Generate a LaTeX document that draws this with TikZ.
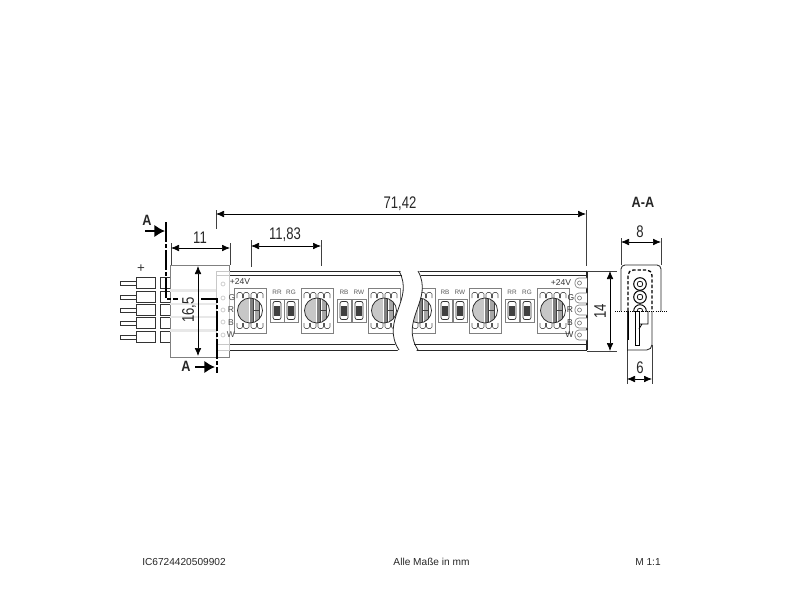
\documentclass[tikz,border=0pt]{standalone}
\usepackage{fontspec}
\setmainfont{Liberation Sans}
\newfontfamily\dimfont[FakeStretch=0.78]{Liberation Sans}
\newfontfamily\cutfont[FakeStretch=0.85]{Liberation Sans}
\usetikzlibrary{arrows.meta}
\definecolor{padgray}{HTML}{C8C8C8}
\definecolor{boxgray}{HTML}{808080}
\definecolor{chipgray}{HTML}{808080}
\tikzset{
  dimline/.style={line width=.55pt,{Latex[length=6pt,width=5pt]}-{Latex[length=6pt,width=5pt]}},
  extline/.style={line width=.5pt,black!75},
  dimlabel/.style={font=\dimfont\fontsize{12.6}{14}\selectfont,inner sep=0pt,text=black!85},
  footlabel/.style={font=\fontsize{7.6}{9}\selectfont,text=black!85,inner sep=0pt},
  cutline/.style={line width=1.7pt,dash pattern=on 15pt off 1.5pt on 3pt off 1.5pt},
  cutarrow/.style={line width=1.7pt,-{Latex[length=8pt,width=9.5pt]}},
  cutlabel/.style={font=\cutfont\bfseries\fontsize{11.2}{13}\selectfont,inner sep=0pt,text=black!85},
  striplabel/.style={font=\fontsize{6.4}{8}\selectfont,inner sep=0pt,text=black!80},
  smalllabel/.style={font=\fontsize{4.8}{6}\selectfont,inner sep=0pt,text=black!65},
  pinbox/.style={line width=.7pt,draw=black!80,fill=white},
}
\newcommand{\ledchip}[1]{
  \begin{scope}[shift={(#1,288)}]
    \draw[boxgray,line width=.55pt,fill=white] (0,0) rectangle (32,45);
    \foreach \padx in {3,9.5,17,23.5} {
      \draw[black!65,line width=.4pt,rounded corners=1.2pt] (\padx,10) -- (\padx,4.5) -- (\padx+5.5,4.5) -- (\padx+5.5,10);
      \draw[black!65,line width=.4pt,rounded corners=1.2pt] (\padx,35) -- (\padx,40.5) -- (\padx+5.5,40.5) -- (\padx+5.5,35);
    }
    \fill[white] (16,22.5) circle (12.5);
    \begin{scope}
      \clip (16,22.5) circle (12.5);
      \fill[black!22] (3,9) rectangle (15,36);
      \fill[chipgray] (15.5,9) rectangle (19,36);
      \fill[black!35] (21,9) rectangle (25,36);
      \draw[black!75,line width=.35pt] (19.5,9) -- (19.5,36) (25,9) -- (25,36);
      \draw[black!75,line width=.35pt] (19.5,22) -- (25,22);
    \end{scope}
    \draw[black!85,line width=.55pt] (16,22.5) circle (12.5);
  \end{scope}
}
\newcommand{\reschip}[3]{
  \begin{scope}[shift={(#1,299)}]
    \draw[boxgray,line width=.5pt,fill=white] (0,0) rectangle (14,23);
    \draw[black!80,line width=.55pt,rounded corners=1.5pt] (3,2.5) rectangle (11,20.5);
    \fill[black!75] (3.6,6.5) rectangle (10.4,16.5);
    \node[smalllabel] (#3) at (7,-7) {#2};
  \end{scope}
}
\begin{document}
\begin{tikzpicture}[x=.75pt,y=-.75pt]
\useasboundingbox (0,0) rectangle (800,600);

\begin{scope}
  \clip (229,268) -- (399,268) .. controls (415,300) and (380,320) .. (399,353) -- (229,353) -- cycle;
  \ledchip{234}
  \ledchip{301}
  \ledchip{368}
  \reschip{270}{RR}{rrleft}
  \reschip{284}{RG}{rgleft}
  \reschip{337}{RB}{rbleft}
  \reschip{352}{RW}{rwleft}
  \foreach \stripy in {271,275,344,350}
    \draw[black!85,line width=.65pt] (229,\stripy) -- (405,\stripy);
\end{scope}
\begin{scope}
  \clip (418,268) -- (587,268) -- (587,353) -- (418,353) .. controls (399,320) and (434,300) .. (418,268) -- cycle;
  \ledchip{403}
  \ledchip{469}
  \ledchip{537}
  \reschip{438}{RB}{rbright}
  \reschip{453}{RW}{rwright}
  \reschip{505}{RR}{rrright}
  \reschip{520}{RG}{rgright}
  \foreach \stripy in {271,275,344,350}
    \draw[black!85,line width=.65pt] (400,\stripy) -- (587,\stripy);
\end{scope}
\draw[black!85,line width=.6pt] (399,271) .. controls (415,300) and (380,320) .. (399,350);
\draw[black!85,line width=.6pt] (418,271) .. controls (434,300) and (399,320) .. (418,350);
\draw[black!85,line width=.9pt] (587,271) -- (587,350);

\foreach \rowy in {283,298,310,323,335} {
  \draw[boxgray,line width=.5pt,fill=white,rounded corners=3pt] (587,\rowy-5) -- (575,\rowy-5) -- (575,\rowy+5) -- (587,\rowy+5);
  \draw[boxgray,line width=.5pt] (579.5,\rowy) circle (2);
}
\node[striplabel] (plusright) at (561,283) {+24V};
\node[striplabel] (gright) at (571,298) {G};
\node[striplabel] (rright) at (570,310) {R};
\node[striplabel] (bright) at (570,323) {B};
\node[striplabel] (wright) at (569.5,335) {W};

\foreach \rowy in {283,297,310,323,337} {
  \draw[pinbox] (120,\rowy-2) rectangle (136,\rowy+2);
  \draw[pinbox] (136,\rowy-5.5) rectangle (155,\rowy+5.5);
  \draw[pinbox] (160,\rowy-5.5) rectangle (170,\rowy+5.5);
}
\node[font=\fontsize{10}{12}\selectfont,inner sep=0pt,text=black!80] (plusleft) at (141,269) {+};

\draw[boxgray,line width=.7pt,fill=white] (170,265) rectangle (229,357);
\foreach \rowy/\nexty in {283/297,297/310,310/323,323/337}
  \fill[black!9] (170,\rowy+5.5) rectangle (216,\nexty-5.5);
\draw[padgray,line width=.5pt] (216,271) rectangle (229,350);
\draw[padgray,line width=.5pt] (216,275) -- (229,275) (216,344) -- (229,344);
\foreach \rowy in {284,298,310,322,335}
  \draw[padgray,line width=.5pt] (223,\rowy) circle (2);
\node[striplabel] (plusinner) at (240,282) {+24V};
\node[striplabel,text=black!70] (gleft) at (232,298) {G};
\node[striplabel,text=black!70] (rleft) at (231,310) {R};
\node[striplabel,text=black!70] (bleft) at (231,323) {B};
\node[striplabel,text=black!70] (wleft) at (231,335) {W};

\draw[cutline] (166,222) -- (166,299) -- (178,299);
\draw[cutline] (201,299) -- (217,299) -- (217,373);
\draw[cutarrow] (145,231) -- (165,231);
\draw[cutarrow] (195,367) -- (215,367);
\node[cutlabel] (cuta) at (147,220) {A};
\node[cutlabel] (cutb) at (186,366) {A};

\draw[extline] (216,210) -- (216,229);
\draw[extline] (586,210) -- (586,266);
\draw[dimline] (216,214) -- (586,214);
\node[dimlabel] (dimtotal) at (400,204) {71,42};

\draw[extline] (171,243) -- (171,265);
\draw[extline] (230,243) -- (230,265);
\draw[dimline] (171,248) -- (230,248);
\node[dimlabel] (dimblock) at (200,238) {11};

\draw[extline] (251,240) -- (251,267);
\draw[extline] (321,240) -- (321,266);
\draw[dimline] (251,246) -- (321,246);
\node[dimlabel] (dimpitch) at (285,235) {11,83};

\draw[dimline] (198,266) -- (198,356);
\node[dimlabel,rotate=90] (dimheight) at (189,310) {16,5};

\draw[extline] (587,271) -- (617,271);
\draw[extline] (587,351) -- (617,351);
\draw[dimline] (610,271) -- (610,351);
\node[dimlabel,rotate=90] (dimstrip) at (600,311) {14};

\node[cutlabel] (dimsection) at (643,202) {A-A};

\draw[extline] (621,238) -- (621,265);
\draw[extline] (661,238) -- (661,265);
\draw[dimline] (621,242) -- (661,242);
\node[dimlabel] (dimwide) at (640,232) {8};

\draw[black!85,line width=.65pt,rounded corners=3pt] (621,311) -- (621,265) -- (661,265) -- (661,311);
\draw[black!85,line width=.65pt,rounded corners=4pt] (652,311) -- (652,350) -- (627,350);
\draw[black!85,line width=.65pt] (627,311) -- (627,351);
\draw[line width=1.3pt] (628.5,311) -- (628.5,340);
\draw[line width=.6pt,densely dotted] (615,311) -- (667,311);
\draw[line width=1pt,dash pattern=on 2.5pt off 1.5pt,rounded corners=4pt] (628,311) -- (628,270) -- (652,270) -- (652,311);
\foreach \ringy in {284,297} {
  \draw[line width=.75pt] (640,\ringy) circle (6.3);
  \draw[line width=.55pt] (640,\ringy) circle (2.8);
}
\begin{scope}
  \clip (630,303) rectangle (650,311);
  \draw[line width=.7pt] (640,311) circle (6.3);
  \draw[line width=.55pt] (640,311) circle (2.8);
\end{scope}
\draw[line width=.6pt] (635,311) rectangle (639,345);
\draw[line width=.6pt] (648,311) -- (648,324) -- (639,324) (639,329) -- (642,324);

\draw[extline] (627,351) -- (627,384);
\draw[extline] (652,345) -- (652,384);
\draw[dimline] (627,379) -- (652,379);
\node[dimlabel] (dimlower) at (640,368) {6};

\node[footlabel] (partno) at (184,562) {IC6724420509902};
\node[footlabel] (units) at (431.5,562) {Alle Maße in mm};
\node[footlabel] (scale) at (648,562) {M 1:1};
\end{tikzpicture}
\end{document}
